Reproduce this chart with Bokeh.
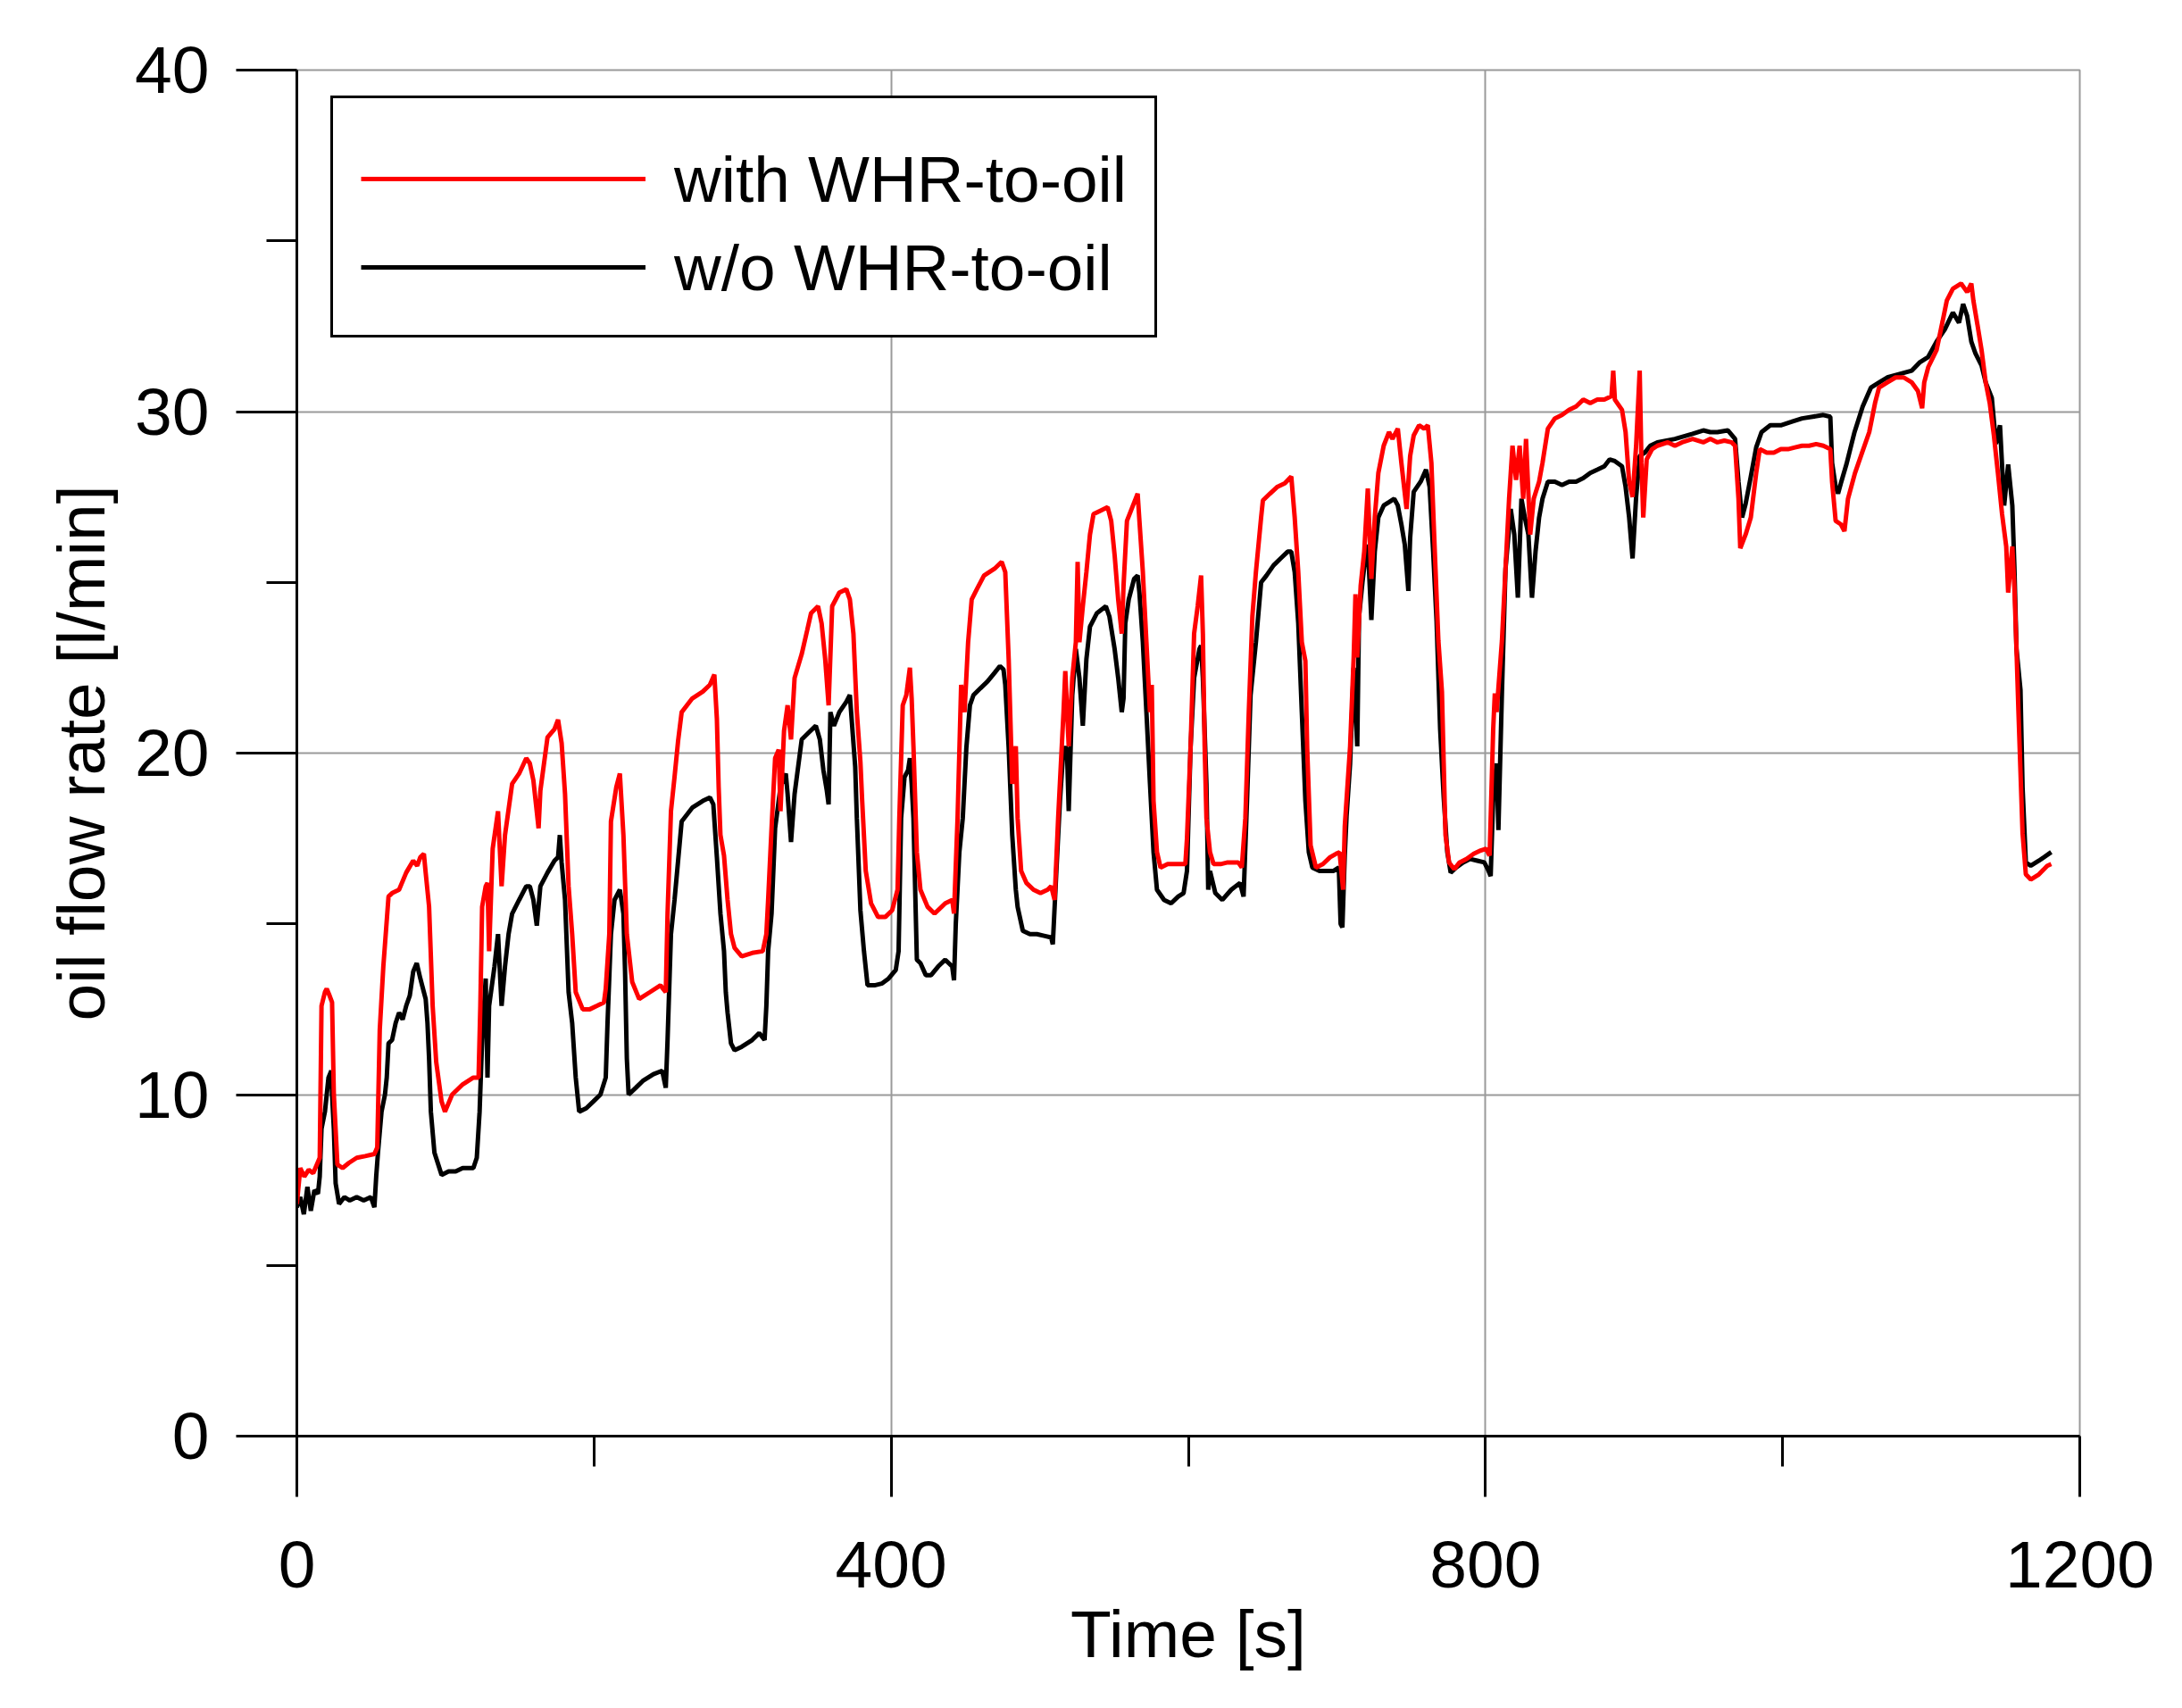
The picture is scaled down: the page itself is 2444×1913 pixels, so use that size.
from bokeh.plotting import figure
from bokeh.models import FixedTicker, Legend, LegendItem, Range1d
from bokeh.embed import file_html
from bokeh.resources import INLINE

# ---- data (time [s], oil flow rate [l/min]) ----
with_t = [0, 2.3, 5, 8, 11, 15.4, 16.6, 18.9, 20.1, 22, 23.7, 24.9, 27.3, 30.8, 35, 40.3, 46, 52.2, 54.1,
          55.8, 58.2, 61.7, 64.1, 68.8, 73.6, 78.3, 81, 83.1, 85.5, 86.7, 89.0, 91.4, 93.8, 97.4, 99.7,
          104.5, 111.6, 118.8, 122.3, 123.5, 124.7, 127.1, 128.3, 129.4, 131.8, 135.4, 137.8, 140.1, 144.9,
          149.6, 154.4, 156.8, 159.2, 162.7, 163.9, 168.7, 173.4, 175.8, 178.2, 180.5, 182.9, 185.3, 187.7,
          192.4, 197.2, 202, 206.7, 207.9, 210.3, 211.4, 215.0, 217.4, 219.8, 222.1, 225.7, 230.4, 237.6,
          244.7, 248.3, 249.5, 251.8, 254.2, 256.6, 259.0, 266.1, 273.2, 278.0, 281.0, 282.7, 283.9, 285.1,
          287.5, 289.9, 292.2, 294.6, 299.4, 306.5, 313.6, 316.0, 317.2, 319.5, 321.9, 324.3, 325.5, 327.9,
          330.3, 332.6, 335.0, 339.8, 343.5, 346.1, 350.8, 353.2, 355.6, 357.9, 360.3, 365.1, 369.8, 372.2,
          374.6, 376.9, 379.3, 380.5, 382.9, 386.5, 391.2, 396.0, 400.7, 404.3, 405.5, 407.8, 410.2, 412.6,
          413.8, 415.0, 417.3, 419.7, 424.5, 429.2, 436.4, 441.1, 442.3, 444.7, 447.1, 449.4, 451.8, 454.2,
          457.7, 462.5, 469.6, 474.4, 476.8, 479.1, 481.5, 483.9, 485.1, 487.5, 491.0, 495.8, 500.5, 505.3,
          507.7, 510.0, 512.4, 516.0, 517.2, 519.5, 521.9, 524.3, 525.5, 526.7, 529.0, 531.4, 533.8, 536.2,
          540.9, 545.7, 548.1, 550.4, 552.8, 555.2, 556.4, 558.7, 562.3, 565.9, 567.1, 569.4, 571.8, 574.2,
          575.4, 576.6, 578.9, 581.3, 586.1, 593.2, 598.0, 599.1, 601.5, 603.9, 606.3, 608.6, 609.8, 611.0,
          612.2, 614.6, 617.0, 621.7, 626.5, 633.6, 636.0, 638.4, 640.7, 643.1, 645.5, 649.0, 650.2, 655.0,
          660, 665, 669.3, 671.6, 674.0, 676.4, 678.8, 680.0, 682.3, 685.9, 690.6, 695.4, 699.4, 701.8,
          704.2, 705.3, 708.9, 711.3, 712.5, 713.7, 716.0, 718.4, 720.8, 723.2, 725.5, 727.9, 731.5, 735.1,
          737.4, 741.0, 743.4, 746.9, 749.3, 751.7, 755.3, 758.8, 761.2, 763.6, 765.9, 768.3, 770.7, 771.9,
          773.1, 775.5, 779.0, 782.6, 787.3, 792.1, 796.8, 800.4, 802.8, 805.2, 806.3, 807.5, 811.1, 813.5,
          815.9, 818.2, 820.6, 823.0, 825.4, 827.3, 830.1, 832.5, 836.1, 838.4, 842.0, 846.7, 851.5, 856.3,
          861.0, 865.8, 870.5, 875.3, 880.0, 884.8, 886.0, 887.1, 891.9, 894.3, 896.7, 899.0, 901.4, 903.8,
          905.0, 906.2, 907.3, 908.5, 912.1, 915.7, 922.8, 927.5, 932.3, 939.4, 946.6, 951.3, 956.1, 960.8,
          965.6, 968.0, 970.3, 971.5, 975.1, 978.6, 982.2, 984.6, 989.3, 994.1, 998.8, 1003.6, 1008.3,
          1013.1, 1017.8, 1022.6, 1027.4, 1032.1, 1033.3, 1035.7, 1039.2, 1041.6, 1044.0, 1048.7, 1053.5,
          1058.3, 1062.2, 1064.9, 1070.4, 1076.0, 1081.5, 1087.0, 1091.1, 1093.9, 1095.3, 1098.0, 1103.6,
          1107.7, 1110.5, 1114.6, 1120.1, 1124.2, 1127.0, 1128.4, 1131.1, 1133.9, 1136.7, 1139.4, 1142.2,
          1144.9, 1147.7, 1150.5, 1151.8, 1154.6, 1156.0, 1157.4, 1158.7, 1160.1, 1161.5, 1163.7, 1167.0,
          1172.5, 1178.1, 1180.8]
with_v = [6.8, 7.85, 7.6, 7.8, 7.7, 8.15, 12.6, 13.0, 13.1, 12.9, 12.7, 10.0, 7.95, 7.85, 8.0, 8.15, 8.2, 8.26,
          8.45, 11.9, 13.75, 15.8, 15.9, 16.0, 16.5, 16.85, 16.7, 16.95, 17.05, 16.5, 15.5, 12.6, 10.95, 9.8,
          9.5, 10.0, 10.3, 10.5, 10.5, 12.6, 15.5, 16.1, 16.2, 14.2, 17.2, 18.3, 16.1, 17.6, 19.1, 19.4,
          19.85, 19.7, 19.2, 17.8, 18.9, 20.46, 20.7, 20.98, 20.3, 18.8, 16.1, 14.7, 13.0, 12.5, 12.5, 12.6,
          12.7, 13.1, 14.7, 18.0, 19.0, 19.4, 17.6, 14.7, 13.3, 12.8, 13.0, 13.2, 13.0, 15.3, 18.3, 19.3,
          20.36, 21.2, 21.6, 21.8, 22.0, 22.3, 21.0, 19.0, 17.6, 17.0, 15.7, 14.7, 14.3, 14.05, 14.15, 14.2,
          14.7, 15.7, 17.8, 19.85, 20.1, 18.3, 20.65, 21.4, 20.4, 22.2, 22.9, 23.6, 24.1, 24.3, 23.8, 22.75,
          21.4, 24.3, 24.7, 24.8, 24.5, 23.5, 21.2, 19.75, 18.6, 16.55, 15.6, 15.2, 15.2, 15.4, 16.0, 18.1,
          21.4, 21.7, 22.5, 21.6, 20.2, 17.1, 16.0, 15.5, 15.3, 15.6, 15.7, 15.3, 18.1, 22.0, 21.2, 23.25,
          24.5, 24.8, 25.2, 25.4, 25.6, 25.3, 22.75, 19.1, 20.2, 18.1, 16.55, 16.2, 16.0, 15.9, 16.0, 16.1,
          15.7, 18.1, 21.2, 22.4, 20.2, 22.2, 23.25, 25.6, 23.25, 24.3, 25.3, 26.4, 27.0, 27.1, 27.2, 26.8,
          25.8, 24.5, 23.5, 24.9, 26.8, 27.2, 27.6, 26.8, 25.3, 23.25, 21.2, 22.0, 18.6, 17.1, 16.65, 16.75,
          16.75, 16.75, 17.5, 20.15, 23.5, 24.3, 25.2, 23.5, 20.2, 18.1, 17.1, 16.75, 16.75, 16.8, 16.8,
          16.65, 18.1, 21.2, 24.0, 25.3, 26.9, 27.4, 27.6, 27.8, 27.9, 28.1, 26.9, 25.3, 23.25, 22.7, 20.15,
          17.3, 16.65, 16.75, 16.95, 17.05, 17.1, 16.0, 17.85, 20.2, 22.8, 24.65, 22.8, 24.9, 25.9, 27.75,
          25.1, 26.9, 28.2, 29.0, 29.4, 29.2, 29.5, 28.5, 27.15, 28.7, 29.3, 29.6, 29.5, 29.6, 28.5, 25.9,
          23.3, 21.8, 19.7, 17.6, 16.8, 16.6, 16.8, 16.9, 17.05, 17.15, 17.2, 17.0, 20.7, 21.75, 21.2, 23.3,
          25.4, 27.45, 29.0, 28.0, 29.0, 27.45, 29.2, 26.4, 27.45, 27.95, 28.5, 29.5, 29.8, 29.9, 30.05,
          30.15, 30.35, 30.25, 30.35, 30.35, 30.45, 31.2, 30.35, 30.05, 29.4, 27.95, 27.5, 29.0, 31.2, 28.5,
          26.9, 27.7, 28.6, 28.9, 29.0, 29.1, 29.0, 29.1, 29.2, 29.1, 29.2, 29.1, 29.15, 29.1, 29.0, 27.45,
          26.0, 26.4, 26.9, 28.2, 28.9, 28.8, 28.8, 28.9, 28.9, 28.95, 29.0, 29.0, 29.05, 29.0, 28.9, 27.95,
          26.8, 26.7, 26.5, 27.45, 28.2, 28.8, 29.4, 30.25, 30.7, 30.85, 31.0, 31.0, 30.85, 30.6, 30.1,
          30.85, 31.3, 31.8, 32.65, 33.25, 33.6, 33.75, 33.5, 33.75, 33.25, 32.55, 31.8, 30.85, 30.25, 29.3,
          28.2, 27.0, 26.05, 24.7, 26.05, 24.85, 23.05, 21.25, 19.45, 17.65, 16.45, 16.3, 16.45, 16.7, 16.75]

wo_t = [0, 2.3, 4.7, 7.1, 9.4, 11.8, 14.2, 15.4, 16.6, 18.9, 21.3, 23.2, 23.7, 24.9, 26.1, 28.4, 32, 35.6,
        40.3, 45, 49.8, 52.2, 53.4, 54.6, 57.0, 59.3, 60.5, 61.7, 64.1, 66.5, 68.8, 71.2, 73.6, 76.0, 78.3,
        80.7, 83.1, 85.5, 86.7, 87.9, 89.0, 90.2, 92.6, 97.4, 102.1, 106.9, 111.6, 118.8, 121.1, 123.0,
        124.7, 127.1, 128.3, 129.4, 133, 135.4, 137.8, 140.1, 142.5, 144.9, 149.6, 154.4, 156.8, 159.2,
        161.5, 163.9, 168.7, 173.4, 175.8, 177.0, 178.2, 180.5, 182.9, 185.3, 187.7, 190.0, 194.8, 199.6,
        204.3, 207.9, 209.1, 211.4, 213.8, 217.4, 219.8, 220.9, 222.1, 223.3, 228.1, 232.8, 240.0, 245.9,
        248.3, 249.5, 251.8, 254.2, 259.0, 266.1, 273.2, 278.0, 280.3, 282.7, 285.1, 287.5, 288.7, 289.9,
        292.2, 294.6, 299.4, 306.5, 311.2, 314.8, 316.0, 317.2, 319.5, 321.9, 325.5, 329.1, 330.3, 332.6,
        335.0, 339.8, 344.5, 349.3, 352.0, 354.4, 356.7, 357.9, 359.1, 361.5, 365.1, 369.8, 372.2, 373.4,
        375.8, 376.9, 379.3, 381.7, 384.1, 388.8, 393.6, 398.3, 403.1, 405.0, 406.7, 409.0, 411.4, 412.6,
        413.8, 415.0, 417.3, 419.7, 423.3, 426.9, 431.6, 436.4, 441.1, 442.3, 443.5, 445.9, 448.2, 450.6,
        453.0, 455.4, 460.1, 464.9, 469.6, 473.2, 475.6, 476.8, 479.1, 481.5, 483.9, 485.1, 488.6, 493.4,
        498.1, 502.9, 507.7, 508.8, 511.2, 513.6, 516.0, 518.3, 519.5, 521.9, 524.3, 526.7, 529.0, 531.4,
        533.8, 538.5, 544.5, 546.9, 550.4, 552.8, 555.2, 556.4, 557.6, 559.9, 563.5, 565.9, 567.1, 569.4,
        571.8, 574.2, 576.6, 578.9, 583.7, 588.4, 593.2, 596.8, 599.1, 601.5, 603.9, 607.5, 608.6, 609.8,
        612.2, 613.4, 614.6, 618.2, 622.9, 628.9, 634.8, 637.2, 639.5, 641.9, 645.5, 649.0, 652.6, 657.4,
        662.1, 666.9, 669.3, 671.6, 674.0, 676.4, 678.8, 681.1, 683.5, 688.3, 693.0, 697.8, 701.3, 702.5,
        703.7, 705.3, 706.5, 708.9, 711.3, 713.7, 714.9, 717.2, 719.6, 720.8, 723.2, 725.5, 727.9, 731.5,
        735.1, 738.6, 741.0, 743.4, 745.7, 748.1, 749.3, 751.7, 756.4, 760.0, 762.4, 764.8, 767.1, 769.5,
        771.9, 774.3, 776.6, 780.2, 785.0, 789.7, 794.5, 799.2, 801.6, 803.5, 805.2, 807.5, 808.7, 811.1,
        813.5, 817.0, 819.4, 821.8, 824.2, 826.5, 828.9, 831.3, 833.7, 836.1, 838.4, 842.0, 846.7, 851.5,
        856.3, 861.0, 865.8, 870.5, 875.3, 880.0, 883.6, 887.1, 891.9, 894.3, 896.7, 899.0, 901.4, 903.8,
        907.3, 910.9, 915.7, 927.5, 939.4, 946.6, 951.3, 956.1, 963.2, 968.0, 970.3, 972.7, 975.1, 978.6,
        982.2, 985.8, 991.7, 998.8, 1006.0, 1013.1, 1020.2, 1027.4, 1032.1, 1033.3, 1035.7, 1037.3, 1039.2,
        1042.9, 1048.4, 1053.9, 1059.4, 1064.9, 1070.4, 1078.7, 1087.0, 1092.5, 1098.0, 1103.6, 1109.1,
        1114.6, 1118.7, 1121.5, 1124.2, 1127.0, 1129.8, 1133.9, 1136.7, 1140.8, 1143.6, 1146.3, 1149.1,
        1151.8, 1154.6, 1156.0, 1157.4, 1160.1, 1161.5, 1163.7, 1167.0, 1172.5, 1180.8]
wo_v = [6.7, 7.0, 6.5, 7.3, 6.6, 7.2, 7.1, 7.6, 9.0, 9.5, 10.5, 10.7, 10.0, 9.0, 7.4, 6.8, 7.0, 6.9, 7.0, 6.9,
        7.0, 6.7, 7.6, 8.3, 9.5, 10.0, 10.5, 11.5, 11.6, 12.1, 12.4, 12.2, 12.6, 12.9, 13.6, 13.85, 13.4,
        13.0, 12.8, 12.1, 11.05, 9.5, 8.3, 7.65, 7.75, 7.75, 7.85, 7.85, 8.15, 9.5, 11.6, 13.4, 10.5, 12.6,
        13.75, 14.7, 12.6, 13.75, 14.7, 15.3, 15.7, 16.1, 16.1, 15.7, 14.95, 16.1, 16.5, 16.85, 16.95, 17.6,
        16.8, 15.7, 13.0, 12.1, 10.5, 9.5, 9.6, 9.8, 10.0, 10.5, 12.1, 14.7, 15.7, 16.0, 15.3, 13.6, 11.05,
        10.0, 10.2, 10.4, 10.6, 10.7, 10.2, 11.6, 14.7, 15.7, 18.0, 18.4, 18.6, 18.7, 18.5, 16.95, 15.3,
        14.2, 13.0, 12.4, 11.5, 11.3, 11.4, 11.6, 11.8, 11.6, 12.6, 14.2, 15.3, 17.8, 19.0, 19.4, 18.8,
        17.4, 18.8, 20.4, 20.6, 20.8, 20.4, 19.5, 18.9, 18.5, 21.2, 20.8, 21.2, 21.5, 21.7, 21.0, 19.6,
        18.1, 15.4, 14.2, 13.2, 13.2, 13.25, 13.4, 13.65, 14.2, 18.1, 19.3, 19.5, 19.85, 19.1, 18.1, 13.95,
        13.85, 13.5, 13.5, 13.75, 13.95, 13.75, 13.35, 15.0, 17.1, 18.1, 20.15, 21.4, 21.7, 21.9, 22.1,
        22.35, 22.55, 22.45, 22.0, 20.15, 17.6, 16.0, 15.5, 14.8, 14.7, 14.7, 14.65, 14.6, 14.4, 16.55,
        18.6, 20.15, 20.15, 18.3, 21.7, 23.05, 22.2, 20.8, 22.75, 23.7, 24.1, 24.3, 24.0, 23.05, 22.2, 21.2,
        21.6, 23.8, 24.5, 25.1, 25.2, 24.7, 23.25, 21.2, 19.1, 17.1, 16.0, 15.7, 15.6, 15.8, 15.9, 16.55,
        20.15, 22.2, 23.05, 23.15, 22.2, 19.1, 16.0, 16.55, 15.9, 15.7, 16.0, 16.2, 15.8, 18.6, 21.7, 23.25,
        25.0, 25.2, 25.5, 25.7, 25.9, 25.9, 25.3, 23.8, 21.2, 18.6, 17.1, 16.65, 16.55, 16.55, 16.55, 16.65,
        15.0, 14.9, 17.0, 18.15, 19.7, 22.5, 20.2, 24.0, 25.0, 25.9, 26.1, 23.9, 25.9, 26.9, 27.25, 27.35,
        27.45, 27.25, 26.7, 26.1, 24.75, 26.3, 27.65, 27.95, 28.3, 27.8, 25.9, 23.85, 20.7, 18.7, 17.1,
        16.5, 16.65, 16.8, 16.9, 16.85, 16.8, 16.6, 16.4, 18.7, 19.7, 17.75, 21.8, 25.4, 27.15, 26.4, 24.55,
        27.45, 26.9, 26.4, 24.55, 25.9, 26.9, 27.45, 27.95, 27.95, 27.85, 27.95, 27.95, 28.05, 28.2, 28.3,
        28.4, 28.6, 28.55, 28.4, 27.8, 26.9, 25.7, 27.5, 28.7, 28.8, 29.0, 29.1, 29.2, 29.35, 29.45, 29.4,
        29.4, 29.45, 29.2, 27.95, 26.9, 27.3, 28.1, 28.95, 29.4, 29.6, 29.6, 29.7, 29.8, 29.85, 29.9, 29.85,
        28.5, 27.8, 27.6, 27.9, 28.45, 29.4, 30.15, 30.7, 30.85, 31.0, 31.1, 31.2, 31.45, 31.6, 32.05, 32.4,
        32.9, 32.6, 33.15, 32.8, 32.05, 31.7, 31.35, 30.85, 30.4, 29.05, 29.6, 27.25, 28.45, 27.25, 25.45,
        23.05, 21.85, 19.0, 16.8, 16.7, 16.85, 17.1]

x_ticks = [0, 400, 800, 1200]
x_minor = [200, 600, 1000]
y_ticks = [0, 10, 20, 30, 40]
y_minor = [5, 15, 25, 35]
labels = ["with WHR-to-oil", "w/o WHR-to-oil"]
x_title = "Time [s]"
y_title = "oil flow rate [l/min]"

FONT = "Liberation Sans"
FS = "75px"

p = figure(width=2436, height=1905, x_range=Range1d(0, 1200), y_range=Range1d(0, 40),
           output_backend="svg", toolbar_location=None,
           min_border_left=332, min_border_right=107, min_border_top=78, min_border_bottom=297)
p.background_fill_color = "white"
p.border_fill_color = "white"
p.outline_line_color = "#9a9a9a"
p.outline_line_width = 2

r_wo = p.line(wo_t, wo_v, line_color="black", line_width=5)
r_with = p.line(with_t, with_v, line_color="#ff0000", line_width=5)

for ax, ticks, minor in ((p.xaxis[0], x_ticks, x_minor), (p.yaxis[0], y_ticks, y_minor)):
    ax.ticker = FixedTicker(ticks=ticks, minor_ticks=minor)
    ax.axis_line_color = "black"
    ax.axis_line_width = 3
    ax.major_tick_line_color = "black"
    ax.major_tick_line_width = 3
    ax.major_tick_out = 68
    ax.major_tick_in = 0
    ax.minor_tick_line_color = "black"
    ax.minor_tick_line_width = 3
    ax.minor_tick_out = 34
    ax.minor_tick_in = 0
    ax.major_label_text_font = FONT
    ax.major_label_text_font_size = FS
    ax.major_label_text_color = "black"
    ax.axis_label_text_font = FONT
    ax.axis_label_text_font_size = FS
    ax.axis_label_text_font_style = "normal"
    ax.axis_label_text_color = "black"

p.xaxis.axis_label = x_title
p.yaxis.axis_label = y_title
p.xaxis.major_label_standoff = 50
p.yaxis.major_label_standoff = 30
p.xaxis.axis_label_standoff = 7
p.yaxis.axis_label_standoff = 15

p.xgrid.ticker = FixedTicker(ticks=x_ticks)
p.ygrid.ticker = FixedTicker(ticks=y_ticks)
for g in (p.xgrid[0], p.ygrid[0]):
    g.grid_line_color = "#9a9a9a"
    g.grid_line_width = 2

legend = Legend(items=[LegendItem(label=labels[0], renderers=[r_with]),
                       LegendItem(label=labels[1], renderers=[r_wo])],
                location=(38, 1230))
legend.title = " "
legend.title_text_font_size = "11px"
legend.title_standoff = 2
legend.border_line_color = "black"
legend.border_line_alpha = 1.0
legend.border_line_width = 3
legend.background_fill_color = "white"
legend.background_fill_alpha = 1.0
legend.label_text_font = FONT
legend.label_text_font_size = "73px"
legend.label_text_color = "black"
legend.padding = 31
legend.spacing = 9
legend.label_height = 90
legend.glyph_height = 90
legend.glyph_width = 319
legend.label_standoff = 32
legend.margin = 0
p.add_layout(legend)

open("out.html", "w").write(file_html(p, INLINE))
